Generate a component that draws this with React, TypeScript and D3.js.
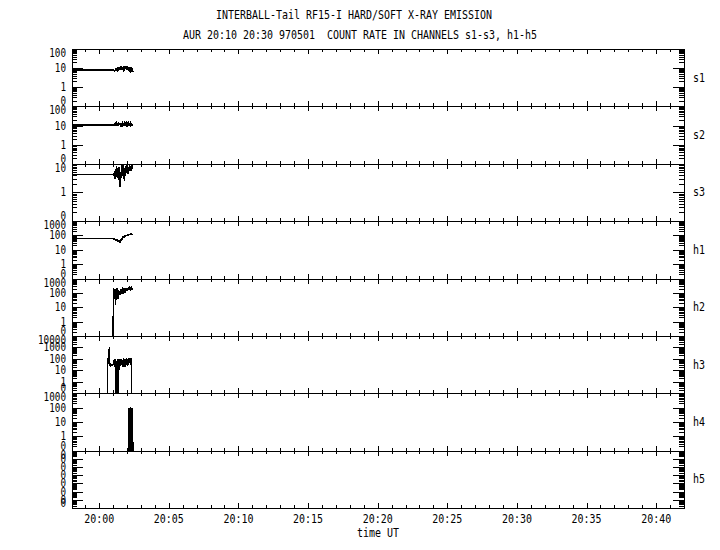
import React from 'react';
import * as d3 from 'd3';

// ---------- data ----------
const channels = ['s1', 's2', 's3', 'h1', 'h2', 'h3', 'h4', 'h5'];
const decadeLo = [-1, -1, -1, -1, -1, -1, -1, -7];
const decadeHi = [2, 2, 1, 3, 3, 4, 3, 0];
const yTickLabels = [
  ['0', '1', '10', '100'],
  ['0', '1', '10', '100'],
  ['0', '1', '10'],
  ['0', '1', '10', '100', '1000'],
  ['0', '1', '10', '100', '1000'],
  ['0', '1', '10', '100', '1000', '10000'],
  ['0', '1', '10', '100', '1000'],
  ['0', '0', '0', '0', '0', '0', '0', '0'],
];
const xMajorMinutes = [0, 5, 10, 15, 20, 25, 30, 35, 40];
const xTickLabels = ['20:00', '20:05', '20:10', '20:15', '20:20', '20:25', '20:30', '20:35', '20:40'];
const xMinorMinutes = [-1, 1, 2, 3, 4, 6, 7, 8, 9, 11, 12, 13, 14, 16, 17, 18, 19, 21, 22, 23, 24, 26, 27, 28, 29, 31, 32, 33, 34, 36, 37, 38, 39, 41];

// time (minutes after 20:00) of the dense sampling segment
const noiseT = [1.06, 1.10, 1.14, 1.18, 1.22, 1.26, 1.30, 1.34, 1.38, 1.42, 1.46, 1.50, 1.54, 1.58, 1.62, 1.66, 1.70, 1.74, 1.78, 1.82, 1.86, 1.90, 1.94, 1.98, 2.02, 2.06, 2.10, 2.14, 2.18, 2.22, 2.26, 2.30, 2.34, 2.38, 2.42];

const s1Time = [-1.95, 1.02, ...noiseT];
const s1Val = [8, 8, 7.5, 6.8, 7.2, 9.5, 7.0, 10.5, 8.0, 9.8, 7.4, 11.0, 8.5, 9.0, 12.0, 8.2, 10.0, 7.8, 11.5, 9.2, 12.5, 8.8, 10.2, 13.0, 9.0, 11.0, 8.0, 12.0, 7.0, 11.5, 6.0, 10.5, 5.8, 11.0, 6.2, 10.0, 6.5];

const s2Time = [-1.95, 1.02, ...noiseT];
const s2Val = [10.5, 10.5, 10.5, 11.5, 10.0, 12.5, 10.8, 13.5, 11.0, 12.0, 9.5, 13.0, 11.5, 12.5, 10.5, 14.0, 11.0, 13.0, 10.0, 12.5, 11.8, 13.5, 10.5, 12.0, 14.0, 11.0, 12.5, 10.0, 13.5, 11.0, 12.0, 9.8, 12.8, 10.5, 11.5, 10.8, 11.0];

const s3Time = [-1.95, 1.02, ...noiseT];
const s3Val = [4.3, 4.3, 4.0, 5.5, 3.0, 6.5, 4.5, 8.0, 3.5, 6.0, 2.8, 7.5, 4.0, 1.6, 5.0, 3.2, 9.0, 4.5, 11.0, 3.0, 7.0, 2.6, 6.5, 3.8, 8.5, 5.0, 9.5, 4.5, 7.5, 5.5, 9.0, 6.0, 8.5, 5.5, 9.5, 6.5, 8.0];

const h1Time = [-1.95, 1.02, ...noiseT];
const h1Val = [63, 63, 58, 52, 55, 50, 48, 46, 50, 42, 40, 44, 36, 33, 38, 52, 60, 58, 75, 72, 85, 80, 95, 92, 100, 98, 105, 110, 104, 112, 118, 112, 120, 116, 122, 118, 120];

const h2Time = [1.01, 1.02, ...noiseT];
const h2Val = [0.1, 200, 120, 40, 180, 14, 150, 60, 200, 35, 160, 90, 130, 70, 170, 100, 190, 80, 150, 120, 210, 100, 180, 140, 230, 130, 190, 160, 240, 150, 220, 170, 250, 180, 230, 190, 210];

const h3Time = [0.61, 0.62, 0.64, 0.66, 0.70, 0.73, 0.74, 0.78, 0.82, 0.86, 0.90, 0.94, 0.98, 1.02, 1.06, 1.10, 1.14, 1.18, 1.22, 1.26, 1.30, 1.34, 1.38, 1.42, 1.46, 1.50, 1.54, 1.58, 1.62, 1.66, 1.70, 1.74, 1.78, 1.82, 1.86, 1.90, 1.94, 1.98, 2.02, 2.06, 2.10, 2.14, 2.18, 2.22, 2.26, 2.30, 2.33];
const h3Val = [0.1, 120, 40, 60, 35, 1100, 30, 25, 35, 30, 28, 32, 30, 35, 80, 20, 90, 25, 0.1, 70, 0.1, 100, 0.1, 60, 15, 90, 25, 100, 30, 80, 20, 110, 35, 90, 18, 100, 40, 110, 25, 90, 30, 120, 40, 100, 30, 110, 0.1];

const h4Time = [2.12, 2.13, 2.20, 2.21, 2.29, 2.30, 2.33, 2.36, 2.39, 2.42];
const h4Val = [0.1, 80, 78, 0.1, 0.1, 90, 85, 92, 88, 0.1];

const h5Time: number[] = [];
const h5Val: number[] = [];

const seriesTime = [s1Time, s2Time, s3Time, h1Time, h2Time, h3Time, h4Time, h5Time];
const seriesVal = [s1Val, s2Val, s3Val, h1Val, h2Val, h3Val, h4Val, h5Val];

// ---------- layout ----------
const W = 720, H = 550;
const left = 72, right = 684, top = 49, bottom = 508;
const panelH = (bottom - top) / channels.length;
const FONT = '"DejaVu Sans Mono", "Liberation Mono", monospace';

const x = d3.scaleLinear().domain([-1.95, 42]).range([left, right]);

export default function App() {
  const els: React.ReactNode[] = [];
  const c = (v: number) => Math.round(v) + 0.5;

  channels.forEach((name, i) => {
    const pTop = top + i * panelH;
    const pBot = pTop + panelH;
    const lo = decadeLo[i], hi = decadeHi[i];
    const y = d3.scaleLog().domain([Math.pow(10, lo), Math.pow(10, hi)]).range([pBot, pTop]);

    // y ticks (left & right)
    for (let e = lo; e <= hi; e++) {
      const v = Math.pow(10, e);
      const yy = c(y(v));
      els.push(<line key={`ymL${i}_${e}`} x1={left} x2={left + 11} y1={yy} y2={yy} stroke="#000" />);
      els.push(<line key={`ymR${i}_${e}`} x1={right - 11} x2={right} y1={yy} y2={yy} stroke="#000" />);
      if (e < hi) {
        for (let k = 2; k <= 9; k++) {
          const yk = c(y(k * v));
          els.push(<line key={`ynL${i}_${e}_${k}`} x1={left} x2={left + 5} y1={yk} y2={yk} stroke="#000" />);
          els.push(<line key={`ynR${i}_${e}_${k}`} x1={right - 5} x2={right} y1={yk} y2={yk} stroke="#000" />);
        }
      }
      const lab = yTickLabels[i][e - lo];
      const ly = Math.min(Math.max(y(v), pTop + 4), pBot - 5);
      els.push(
        <text key={`yl${i}_${e}`} x={66} y={ly} textAnchor="end" dominantBaseline="central"
          fontSize={11.5} fontFamily={FONT} textLength={lab.length * 5.6} lengthAdjust="spacingAndGlyphs">{lab}</text>
      );
    }

    // x ticks top & bottom of each panel
    xMajorMinutes.forEach((m) => {
      const xx = c(x(m));
      els.push(<line key={`xmT${i}_${m}`} x1={xx} x2={xx} y1={pTop} y2={pTop + 5} stroke="#000" />);
      els.push(<line key={`xmB${i}_${m}`} x1={xx} x2={xx} y1={pBot - 5} y2={pBot} stroke="#000" />);
    });
    xMinorMinutes.forEach((m) => {
      const xx = c(x(m));
      els.push(<line key={`xnT${i}_${m}`} x1={xx} x2={xx} y1={pTop} y2={pTop + 3} stroke="#000" />);
      els.push(<line key={`xnB${i}_${m}`} x1={xx} x2={xx} y1={pBot - 3} y2={pBot} stroke="#000" />);
    });

    // panel boundary
    els.push(<line key={`pb${i}`} x1={left} x2={right} y1={c(pBot)} y2={c(pBot)} stroke="#000" />);

    // data
    const ts = seriesTime[i], vs = seriesVal[i];
    if (ts.length) {
      const minV = Math.pow(10, lo), maxV = Math.pow(10, hi);
      const pts: [number, number][] = ts.map((t, j) => [t, Math.min(Math.max(vs[j], minV), maxV)]);
      const line = d3.line<[number, number]>().x((d) => x(d[0])).y((d) => y(d[1]));
      els.push(<path key={`d${i}`} d={line(pts) || ''} fill="none" stroke="#000" strokeWidth={1.5} />);
    }

    // channel label
    els.push(
      <text key={`cl${i}`} x={693} y={(pTop + pBot) / 2} dominantBaseline="central" fontSize={12}
        fontFamily={FONT} textLength={name.length * 6} lengthAdjust="spacingAndGlyphs">{name}</text>
    );
  });

  // x labels
  xMajorMinutes.forEach((m, j) => {
    els.push(
      <text key={`xl${m}`} x={x(m)} y={523} textAnchor="middle" fontSize={12} fontFamily={FONT}
        textLength={xTickLabels[j].length * 6} lengthAdjust="spacingAndGlyphs">{xTickLabels[j]}</text>
    );
  });

  return (
    <svg width={W} height={H} style={{ position: 'absolute', left: 0, top: 0, background: '#fff' }}
      shapeRendering="crispEdges">
      <rect x={0} y={0} width={W} height={H} fill="#fff" />
      <text x={216} y={19} fontSize={12} fontFamily={FONT} textLength={276} lengthAdjust="spacingAndGlyphs">
        INTERBALL-Tail RF15-I HARD/SOFT X-RAY EMISSION
      </text>
      <text x={183} y={39} fontSize={12} fontFamily={FONT} textLength={354} lengthAdjust="spacingAndGlyphs"
        style={{ whiteSpace: 'pre' }}>
        {'AUR 20:10 20:30 970501  COUNT RATE IN CHANNELS s1-s3, h1-h5'}
      </text>
      <rect x={left + 0.5} y={top + 0.5} width={right - left} height={bottom - top} fill="none" stroke="#000" />
      {els}
      <text x={378} y={537} textAnchor="middle" fontSize={12} fontFamily={FONT} textLength={42}
        lengthAdjust="spacingAndGlyphs">time UT</text>
    </svg>
  );
}
